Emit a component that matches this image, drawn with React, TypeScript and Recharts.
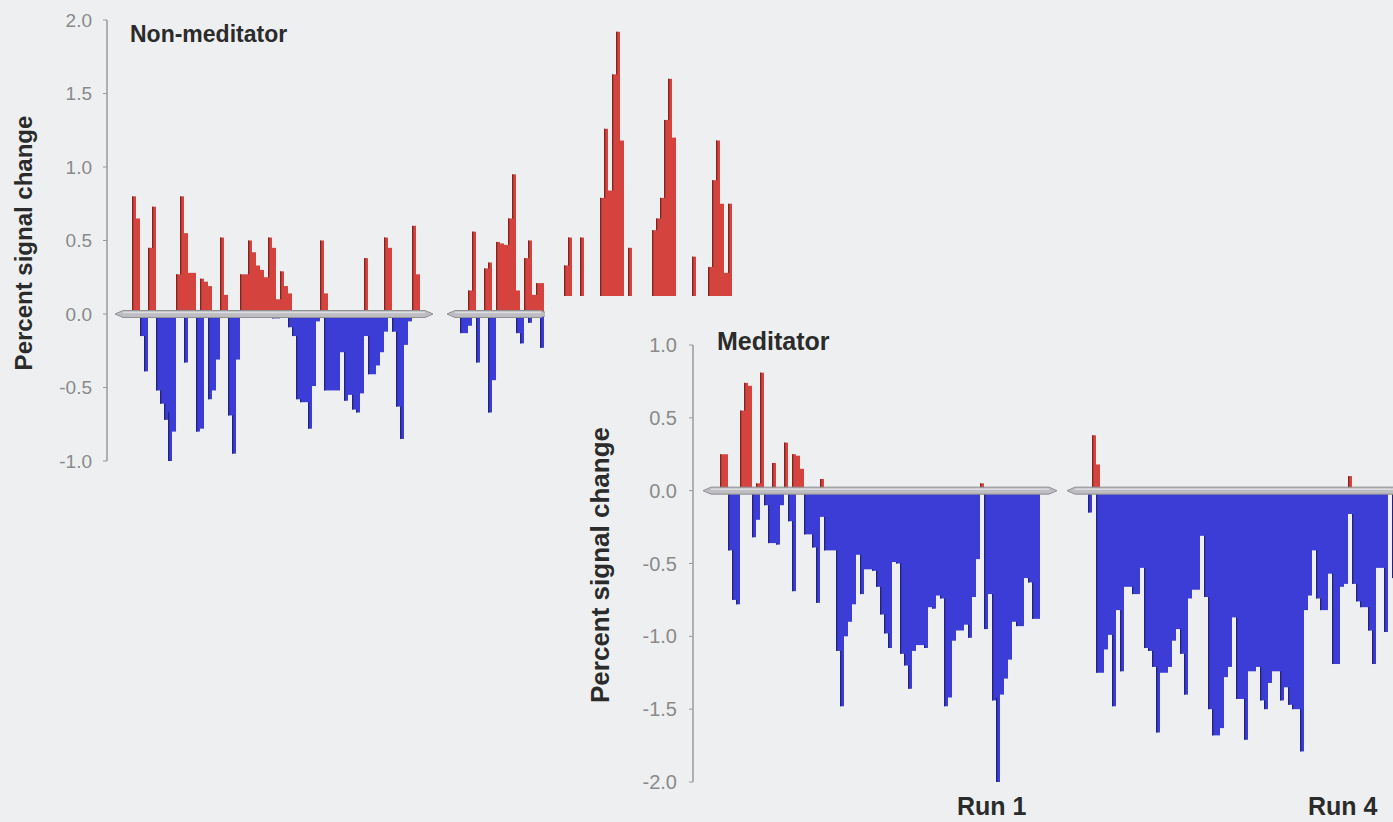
import { Bar, BarChart, ReferenceArea, XAxis, YAxis } from "recharts";

const BG = "#eeeff0";
const RED = "#d4433d";
const RED_EDGE = "#7a2626";
const BLUE = "#3c3cd6";
const BLUE_EDGE = "#23237a";
const FONT = "'Liberation Sans', Arial, Helvetica, sans-serif";

// Non-meditator: one value per time point (runs separated by empty points)
const nonMedUp = [
  0, 0, 0, 0.8, 0.65, 0, 0, 0.45, 0.73, 0,
  0, 0, 0, 0, 0.27, 0.8, 0.55, 0.28, 0.28, 0,
  0.24, 0.22, 0.19, 0, 0, 0.52, 0.13, 0, 0, 0,
  0.27, 0.27, 0.5, 0.42, 0.33, 0.3, 0.25, 0.52, 0.45, 0.1,
  0.29, 0.19, 0.14, 0, 0, 0, 0, 0, 0, 0,
  0.5, 0.14, 0, 0, 0, 0, 0, 0, 0, 0,
  0, 0.38, 0, 0, 0, 0, 0.52, 0.45, 0, 0,
  0, 0, 0, 0.6, 0.27, 0, 0, 0, 0, 0,
  0, 0, 0, 0, 0, 0, 0, 0.16, 0.56, 0,
  0, 0.31, 0.35, 0, 0.49, 0.48, 0.47, 0.65, 0.95, 0.16,
  0, 0.38, 0.5, 0.13, 0.21, 0.21, 0, 0.04, 0, 0,
  0, 0.33, 0.52, 0, 0, 0.52, 0, 0, 0, 0,
  0.79, 1.26, 0.84, 1.63, 1.92, 1.18, 0, 0.45, 0, 0,
  0, 0, 0, 0.57, 0.65, 0.79, 1.32, 1.6, 1.2, 0,
  0, 0, 0, 0.39, 0, 0, 0, 0.32, 0.91, 1.18,
  0.75, 0.28, 0.75, 0, 0, 0
];
const nonMedDown = [
  0, 0, 0, 0, 0, -0.15, -0.39, 0, 0, -0.52,
  -0.61, -0.72, -1.08, -0.8, 0, 0, -0.33, 0, 0, -0.8,
  -0.78, 0, -0.58, -0.52, -0.31, 0, 0, -0.69, -0.95, -0.31,
  0, 0, 0, 0, 0, 0, 0, 0, -0.03, -0.03,
  0, 0, -0.09, -0.15, -0.58, -0.6, -0.6, -0.78, -0.49, -0.05,
  0, -0.52, -0.52, -0.52, -0.52, -0.26, -0.59, -0.55, -0.65, -0.67,
  -0.54, -0.15, -0.41, -0.41, -0.35, -0.26, -0.12, 0, -0.12, -0.63,
  -0.85, -0.21, -0.05, 0, 0, 0, 0, 0, 0, 0,
  0, 0, 0, 0, 0, -0.13, -0.13, -0.08, 0, -0.33,
  0, 0, -0.67, -0.45, 0, 0, 0, 0, 0, -0.13,
  -0.2, 0, -0.06, 0, 0, -0.23, 0, 0, 0, 0,
  0, 0, 0, 0, 0, 0, 0, 0, 0, 0,
  0, 0, 0, 0, 0, 0, 0, 0, 0, 0,
  0, 0, 0, 0, 0, 0, 0, 0, 0, 0,
  0, 0, 0, 0, 0, 0, 0, 0, 0, 0,
  0, 0, 0, 0, 0, 0
];
const nonMedRuns = [
  [0, 76],
  [83, 105]
];
const nonMedTicks = [-1, -0.5, 0, 0.5, 1, 1.5, 2];

// Meditator: Run 1 then Run 4
const medUp = [
  0, 0, 0, 0.25, 0.25, 0, 0, 0, 0.55, 0.74,
  0.72, 0, 0.05, 0.81, 0, 0, 0.19, 0, 0, 0.33,
  0, 0.25, 0.24, 0.15, 0, 0, 0, 0, 0.08, 0,
  0, 0, 0, 0, 0, 0, 0, 0, 0, 0,
  0, 0, 0, 0, 0, 0, 0, 0, 0, 0,
  0, 0, 0, 0, 0, 0, 0, 0, 0, 0,
  0, 0, 0, 0, 0, 0, 0, 0, 0.05, 0,
  0, 0, 0, 0, 0, 0, 0, 0, 0, 0,
  0, 0, 0, 0, 0, 0, 0, 0, 0, 0,
  0, 0, 0, 0, 0, 0, 0.38, 0.18, 0, 0,
  0, 0, 0, 0, 0, 0, 0, 0, 0, 0,
  0, 0, 0, 0, 0, 0, 0, 0, 0, 0,
  0, 0, 0, 0, 0, 0, 0, 0, 0, 0,
  0, 0, 0, 0, 0, 0, 0, 0, 0, 0,
  0, 0, 0, 0, 0, 0, 0, 0, 0, 0,
  0, 0, 0, 0, 0, 0, 0, 0, 0, 0,
  0.1, 0, 0, 0, 0, 0, 0, 0, 0, 0,
  0, 0
];
const medDown = [
  0, 0, 0, 0, 0, -0.41, -0.75, -0.78, 0, 0,
  0, -0.32, -0.2, 0, -0.1, -0.36, -0.36, -0.37, -0.1, 0,
  -0.21, -0.69, 0, 0, -0.3, -0.3, -0.39, -0.77, -0.18, -0.41,
  -0.41, -0.41, -1.1, -1.48, -1.0, -0.9, -0.78, -0.44, -0.71, -0.54,
  -0.54, -0.55, -0.66, -0.85, -0.98, -1.08, -0.49, -0.5, -1.12, -1.2,
  -1.36, -1.1, -1.06, -1.06, -1.08, -0.8, -0.81, -0.72, -0.74, -1.48,
  -1.42, -1.03, -0.96, -0.96, -0.92, -1.01, -0.73, -0.47, 0, -0.95,
  -0.71, -1.44, -2.03, -1.4, -1.29, -1.16, -0.9, -0.93, -0.93, -0.6,
  -0.63, -0.88, -0.88, 0, 0, 0, 0, 0, 0, 0,
  0, 0, 0, 0, 0, -0.15, 0, -1.25, -1.25, -1.09,
  -0.99, -1.48, -0.82, -1.24, -0.66, -0.66, -0.71, -0.71, -0.53, -1.08,
  -1.1, -1.21, -1.66, -1.25, -1.25, -1.21, -1.03, -0.95, -1.12, -1.4,
  -0.74, -0.68, -0.68, -0.31, -0.73, -1.5, -1.68, -1.68, -1.63, -1.28,
  -1.21, -0.87, -1.43, -1.43, -1.71, -1.24, -1.24, -1.21, -1.44, -1.5,
  -1.32, -1.24, -1.24, -1.44, -1.35, -1.47, -1.5, -1.5, -1.79, -0.82,
  -0.72, -0.41, -0.74, -0.82, -0.82, -0.57, -1.19, -1.19, -0.66, -0.64,
  -0.16, -0.64, -0.76, -0.8, -0.8, -0.96, -1.19, -0.53, -0.53, -0.97,
  0, -0.6
];
const medRuns = [
  [0, 85],
  [91, 171]
];
const medTicks = [-2, -1.5, -1, -0.5, 0, 0.5, 1];

const toRows = (up: number[], down: number[]) =>
  up.map((v, i) => ({ i, up: v, down: down[i] }));

const nonMedRows = toRows(nonMedUp, nonMedDown);
const medRows = toRows(medUp, medDown);

// bar with a darker edge on the part that sticks out past its left neighbour
function makeShape(values: number[], fill: string, edge: string) {
  return (props: any) => {
    const { x, y, width, height, index } = props;
    const v = values[index];
    if (!v || !height) return <g />;
    const top = Math.min(y, y + height);
    const h = Math.abs(height);
    const prev = Math.abs(values[index - 1] || 0);
    const exposed = h * Math.max(0, 1 - prev / Math.abs(v));
    const edgeY = v > 0 ? top : top + h - exposed;
    return (
      <g>
        <rect x={x} y={top} width={width} height={h} fill={fill} />
        {exposed > 0.5 && (
          <rect x={x} y={edgeY} width={1.3} height={exposed} fill={edge} />
        )}
      </g>
    );
  };
}

const RunBase = (props: any) => {
  const { x, y, width, height } = props;
  const cy = y + height / 2;
  const t = 3.5;
  const pts = [
    [x - 5, cy],
    [x + 3, cy - t],
    [x + width - 3, cy - t],
    [x + width + 5, cy],
    [x + width - 3, cy + t],
    [x + 3, cy + t]
  ]
    .map((p) => p.join(","))
    .join(" ");
  return (
    <g>
      <polygon points={pts} fill="#bdbdc2" stroke="#8f8f94" strokeWidth={1} />
      <line x1={x + 3} x2={x + width - 3} y1={cy - 1.5} y2={cy - 1.5} stroke="#dcdce0" strokeWidth={1.5} />
    </g>
  );
};

const fmt = (v: number) => v.toFixed(1);

export default function App() {
  return (
    <div
      style={{
        position: "fixed",
        left: 0,
        top: 0,
        width: 1393,
        height: 822,
        overflow: "hidden",
        background: BG
      }}
    >
      <div style={{ position: "absolute", left: 0, top: 0 }}>
        <BarChart
          width={760}
          height={480}
          data={nonMedRows}
          margin={{ top: 20, right: 16, bottom: 19, left: 0 }}
          barCategoryGap={0}
          barGap={0}
          stackOffset="sign"
        >
          <XAxis dataKey="i" hide padding={{ left: 13, right: 0 }} />
          <YAxis
            width={107}
            domain={[-1, 2]}
            ticks={nonMedTicks}
            tickFormatter={fmt}
            tick={{ fill: "#8a8a8a", fontSize: 19, fontFamily: FONT }}
            tickSize={4}
            tickMargin={11}
            tickLine={{ stroke: "#9a9a9a" }}
            axisLine={{ stroke: "#9a9a9a", strokeWidth: 1.5 }}
            allowDataOverflow
          />
          <Bar dataKey="up" stackId="s" isAnimationActive={false} shape={makeShape(nonMedUp, RED, RED_EDGE)} />
          <Bar dataKey="down" stackId="s" isAnimationActive={false} shape={makeShape(nonMedDown, BLUE, BLUE_EDGE)} />
          {nonMedRuns.map(([a, b]) => (
            <ReferenceArea key={a} x1={a} x2={b} y1={-0.02} y2={0.02} shape={RunBase} zIndex={1500} />
          ))}
        </BarChart>
      </div>

      <div
        style={{
          position: "absolute",
          left: 545,
          top: 296,
          width: 848,
          height: 526,
          background: BG
        }}
      >
        <BarChart
          width={851}
          height={526}
          data={medRows}
          margin={{ top: 49, right: 0, bottom: 40, left: 0 }}
          barCategoryGap={0}
          barGap={0}
          stackOffset="sign"
        >
          <XAxis dataKey="i" hide padding={{ left: 15, right: 0 }} />
          <YAxis
            width={148}
            domain={[-2, 1]}
            ticks={medTicks}
            tickFormatter={fmt}
            tick={{ fill: "#8a8a8a", fontSize: 20, fontFamily: FONT }}
            tickSize={4}
            tickMargin={12}
            tickLine={{ stroke: "#9a9a9a" }}
            axisLine={{ stroke: "#9a9a9a", strokeWidth: 1.5 }}
            allowDataOverflow
          />
          <Bar dataKey="up" stackId="s" isAnimationActive={false} shape={makeShape(medUp, RED, RED_EDGE)} />
          <Bar dataKey="down" stackId="s" isAnimationActive={false} shape={makeShape(medDown, BLUE, BLUE_EDGE)} />
          {medRuns.map(([a, b]) => (
            <ReferenceArea key={a} x1={a} x2={b} y1={-0.02} y2={0.02} shape={RunBase} zIndex={1500} />
          ))}
        </BarChart>
      </div>

      <svg
        width={1393}
        height={822}
        style={{ position: "absolute", left: 0, top: 0, pointerEvents: "none" }}
        fontFamily={FONT}
        fontWeight="bold"
        fill="#2b2b2b"
      >
        <text x={130} y={42} fontSize={23}>Non-meditator</text>
        <text x={717} y={350} fontSize={25}>Meditator</text>
        <text x={32} y={243} fontSize={24} textAnchor="middle" transform="rotate(-90 32 243)">
          Percent signal change
        </text>
        <text x={609} y={565} fontSize={26} textAnchor="middle" transform="rotate(-90 609 565)">
          Percent signal change
        </text>
        <text x={957} y={815} fontSize={25}>Run 1</text>
        <text x={1308} y={815} fontSize={25}>Run 4</text>
      </svg>
    </div>
  );
}
